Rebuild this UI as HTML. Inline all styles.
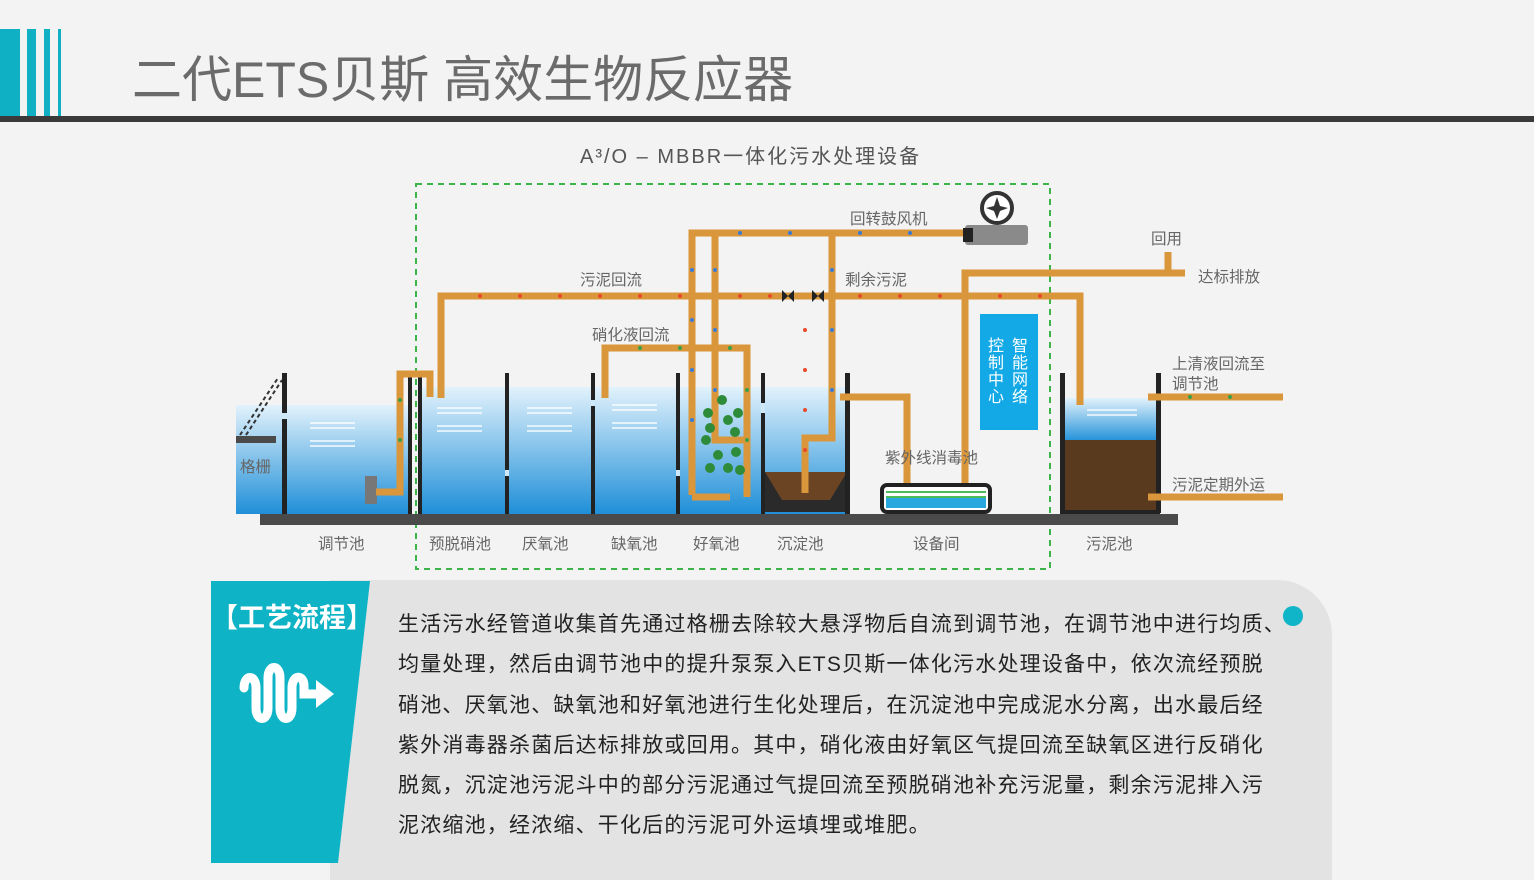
<!DOCTYPE html>
<html><head><meta charset="utf-8"><style>
body{margin:0;width:1534px;height:863px;background:#f3f3f3;overflow:hidden;position:relative;font-family:"Liberation Sans","Noto Sans CJK SC",sans-serif}
.t{position:absolute;white-space:nowrap}
</style></head><body>
<div style="position:absolute;left:0;top:29px;width:20px;height:87px;background:#0fb0c4"></div>
<div style="position:absolute;left:27px;top:29px;width:9px;height:87px;background:#0fb0c4"></div>
<div style="position:absolute;left:44px;top:29px;width:6px;height:87px;background:#0fb0c4"></div>
<div style="position:absolute;left:58px;top:29px;width:3px;height:87px;background:#0fb0c4"></div>
<div class="t" style="left:132px;top:40px;font-size:50px;color:#6b6b6b;letter-spacing:0px">二代ETS贝斯 高效生物反应器</div>
<div style="position:absolute;left:0;top:116px;width:1534px;height:6px;background:#3a3a3a"></div>
<div class="t" style="left:580px;top:140px;font-size:20px;color:#555;letter-spacing:2px">A³/O – MBBR一体化污水处理设备</div>

<svg style="position:absolute;left:0;top:0" width="1534" height="863">
<defs><linearGradient id="w" x1="0" y1="0" x2="0" y2="1"><stop offset="0" stop-color="#e2f2fc"/><stop offset="1" stop-color="#1f8fd8"/></linearGradient></defs>
<rect x="416" y="184" width="634" height="385" fill="none" stroke="#3db44a" stroke-width="2" stroke-dasharray="6,5"/>
<rect x="236" y="405" width="172" height="109" fill="url(#w)"/>
<rect x="420" y="387" width="427" height="127" fill="url(#w)"/>
<rect x="1064" y="398" width="94" height="44" fill="url(#w)"/>
<rect x="1064" y="440" width="94" height="72" fill="#5a3a1e"/>
<polygon points="765,472 847,472 847,512 765,512" fill="#2a2a2a"/>
<polygon points="765,472 847,472 830,500 782,500" fill="#6b4423"/>
<rect x="260" y="514" width="918" height="11" fill="#4a4a4a"/>
<rect x="236" y="436" width="40" height="7" fill="#4a4a4a"/>
<line x1="240" y1="435" x2="278" y2="378" stroke="#333" stroke-width="2" stroke-dasharray="4,3"/>
<line x1="246" y1="435" x2="282" y2="380" stroke="#333" stroke-width="2" stroke-dasharray="4,3"/>
<g fill="#222">
<rect x="282" y="373" width="5" height="141"/>
<rect x="408" y="373" width="4" height="141"/>
<rect x="418" y="376" width="4" height="138"/>
<rect x="505" y="373" width="4" height="141"/>
<rect x="591" y="373" width="4" height="141"/>
<rect x="676" y="373" width="4" height="141"/>
<rect x="761" y="373" width="4" height="141"/>
<rect x="845" y="373" width="5" height="141"/>
<rect x="1060" y="373" width="5" height="140"/>
<rect x="1156" y="373" width="5" height="140"/>
<rect x="1060" y="510" width="100" height="4"/>
</g>
<g fill="#cde8f7"><rect x="505" y="470" width="4" height="6"/><rect x="591" y="400" width="4" height="6"/><rect x="676" y="470" width="4" height="6"/><rect x="761" y="403" width="4" height="10"/><rect x="282" y="413" width="5" height="6"/></g>
<rect x="365" y="476" width="12" height="28" fill="#777"/>
<g stroke="#fff" stroke-width="1.5" fill="none" opacity=".9">
<path d="M310 423 h45 M310 428 h45 M310 441 h45 M310 446 h45"/>
<path d="M437 408 h45 M437 413 h45 M437 426 h45 M437 431 h45"/>
<path d="M527 408 h45 M527 413 h45 M527 426 h45 M527 431 h45"/>
<path d="M612 405 h45 M612 410 h45 M612 423 h45 M612 428 h45"/>
<path d="M1087 410 h50 M1087 415 h50"/>
</g>
<g stroke="#d9963a" stroke-width="7" fill="none" stroke-linejoin="miter">
<path d="M376 492 H400 V374 H430 V397"/>
<path d="M441 398 V296 H1080 V405"/>
<path d="M692 495 V233 H968"/>
<path d="M715 233 V440 H745"/>
<path d="M692 497 H730"/>
<path d="M605 398 V348 H747 V497"/>
<path d="M832 233 V438 H805 V493"/>
<path d="M840 397 H907 V487"/>
<path d="M965 487 V273 H1185"/>
<path d="M1168 252 V273"/>
<path d="M1148 397 H1283"/>
<path d="M1148 497 H1283"/>
</g>
<g fill="#e84a2a"><circle cx="480" cy="296" r="2"/><circle cx="520" cy="296" r="2"/><circle cx="560" cy="296" r="2"/><circle cx="600" cy="296" r="2"/><circle cx="640" cy="296" r="2"/><circle cx="680" cy="296" r="2"/><circle cx="740" cy="296" r="2"/><circle cx="770" cy="296" r="2"/><circle cx="860" cy="296" r="2"/><circle cx="900" cy="296" r="2"/><circle cx="940" cy="296" r="2"/><circle cx="1000" cy="296" r="2"/><circle cx="1040" cy="296" r="2"/><circle cx="805" cy="330" r="2"/><circle cx="805" cy="370" r="2"/><circle cx="805" cy="410" r="2"/><circle cx="805" cy="450" r="2"/></g>
<g fill="#3a7bd5"><circle cx="740" cy="233" r="2"/><circle cx="790" cy="233" r="2"/><circle cx="860" cy="233" r="2"/><circle cx="910" cy="233" r="2"/><circle cx="692" cy="270" r="2"/><circle cx="692" cy="320" r="2"/><circle cx="692" cy="370" r="2"/><circle cx="692" cy="420" r="2"/><circle cx="715" cy="270" r="2"/><circle cx="715" cy="330" r="2"/><circle cx="715" cy="390" r="2"/><circle cx="832" cy="270" r="2"/><circle cx="832" cy="330" r="2"/><circle cx="832" cy="390" r="2"/></g>
<g fill="#3aa04a"><circle cx="640" cy="348" r="2"/><circle cx="680" cy="348" r="2"/><circle cx="730" cy="348" r="2"/><circle cx="747" cy="390" r="2"/><circle cx="747" cy="440" r="2"/><circle cx="400" cy="400" r="2"/><circle cx="400" cy="440" r="2"/><circle cx="1190" cy="397" r="2"/><circle cx="1230" cy="397" r="2"/></g>
<g fill="#2e8b3a"><circle cx="722" cy="400" r="5"/><circle cx="708" cy="413" r="5"/><circle cx="728" cy="420" r="5"/><circle cx="738" cy="413" r="5"/><circle cx="710" cy="428" r="5"/><circle cx="735" cy="432" r="5"/><circle cx="706" cy="440" r="5"/><circle cx="718" cy="455" r="5"/><circle cx="736" cy="452" r="5"/><circle cx="710" cy="468" r="5"/><circle cx="728" cy="468" r="5"/><circle cx="740" cy="470" r="5"/></g>
<g fill="#222"><polygon points="782,290 782,302 794,290 794,302"/><polygon points="812,290 812,302 824,290 824,302"/></g>
<rect x="965" y="225" width="63" height="20" rx="3" fill="#8a8a8a"/>
<rect x="963" y="228" width="10" height="14" fill="#222"/>
<circle cx="997" cy="208" r="15" fill="#fff" stroke="#333" stroke-width="4"/>
<path d="M997 197 L1000 206 L1008 208 L1000 211 L997 219 L994 211 L986 208 L994 206Z" fill="#333"/>
<rect x="882" y="485" width="108" height="27" rx="5" fill="#fff" stroke="#222" stroke-width="4"/>
<rect x="886" y="497" width="100" height="11" fill="#29a8e0"/>
<line x1="886" y1="492" x2="986" y2="492" stroke="#4cbb5a" stroke-width="2"/>
<line x1="886" y1="497" x2="986" y2="497" stroke="#4cbb5a" stroke-width="2"/>
<rect x="980" y="314" width="58" height="116" fill="#12a9e6"/>
</svg>

<div class="t" style="left:988px;top:338px;font-size:16px;line-height:17px;color:#fff;width:12px;white-space:normal">控制中心</div>
<div class="t" style="left:1012px;top:338px;font-size:16px;line-height:17px;color:#fff;width:12px;white-space:normal">智能网络</div>

<div style="font-size:15.5px;color:#666">
<div class="t" style="left:240px;top:455px">格栅</div>
<div class="t" style="left:318px;top:532px">调节池</div>
<div class="t" style="left:429px;top:532px">预脱硝池</div>
<div class="t" style="left:522px;top:532px">厌氧池</div>
<div class="t" style="left:611px;top:532px">缺氧池</div>
<div class="t" style="left:693px;top:532px">好氧池</div>
<div class="t" style="left:777px;top:532px">沉淀池</div>
<div class="t" style="left:913px;top:532px">设备间</div>
<div class="t" style="left:1086px;top:532px">污泥池</div>
<div class="t" style="left:580px;top:268px">污泥回流</div>
<div class="t" style="left:592px;top:323px">硝化液回流</div>
<div class="t" style="left:850px;top:207px">回转鼓风机</div>
<div class="t" style="left:845px;top:268px">剩余污泥</div>
<div class="t" style="left:1151px;top:227px">回用</div>
<div class="t" style="left:1198px;top:265px">达标排放</div>
<div class="t" style="left:1172px;top:352px">上清液回流至</div>
<div class="t" style="left:1172px;top:372px">调节池</div>
<div class="t" style="left:1172px;top:473px">污泥定期外运</div>
<div class="t" style="left:885px;top:446px">紫外线消毒池</div>
</div>

<div style="position:absolute;left:330px;top:580px;width:1002px;height:300px;background:#e3e3e3;border-radius:0 55px 0 0"></div>
<svg style="position:absolute;left:0;top:0" width="1534" height="863">
<polygon points="211,581 370,581 338,863 211,863" fill="#0fb3c6"/>
<path d="M244 688 c0-14 12-14 12 0 v20 c0 14 12 14 12 0 v-30 c0-14 12-14 12 0 v30 c0 14 12 14 12 0 v-20 c0-14 12-14 12 -2 v8 h14" stroke="#fff" stroke-width="9" fill="none" stroke-linecap="round"/>
<polygon points="316,680 334,694 316,708" fill="#fff"/>
<circle cx="1293" cy="616" r="10" fill="#11b5c8"/>
</svg>
<div class="t" style="left:211px;top:596px;font-size:27px;font-weight:bold;color:#fff">【工艺流程】</div>
<div style="position:absolute;left:398px;top:605px;width:940px;font-size:21px;line-height:40.3px;color:#222;letter-spacing:1.2px">
生活污水经管道收集首先通过格栅去除较大悬浮物后自流到调节池，在调节池中进行均质、<br>
均量处理，然后由调节池中的提升泵泵入ETS贝斯一体化污水处理设备中，依次流经预脱<br>
硝池、厌氧池、缺氧池和好氧池进行生化处理后，在沉淀池中完成泥水分离，出水最后经<br>
紫外消毒器杀菌后达标排放或回用。其中，硝化液由好氧区气提回流至缺氧区进行反硝化<br>
脱氮，沉淀池污泥斗中的部分污泥通过气提回流至预脱硝池补充污泥量，剩余污泥排入污<br>
泥浓缩池，经浓缩、干化后的污泥可外运填埋或堆肥。
</div>
</body></html>
